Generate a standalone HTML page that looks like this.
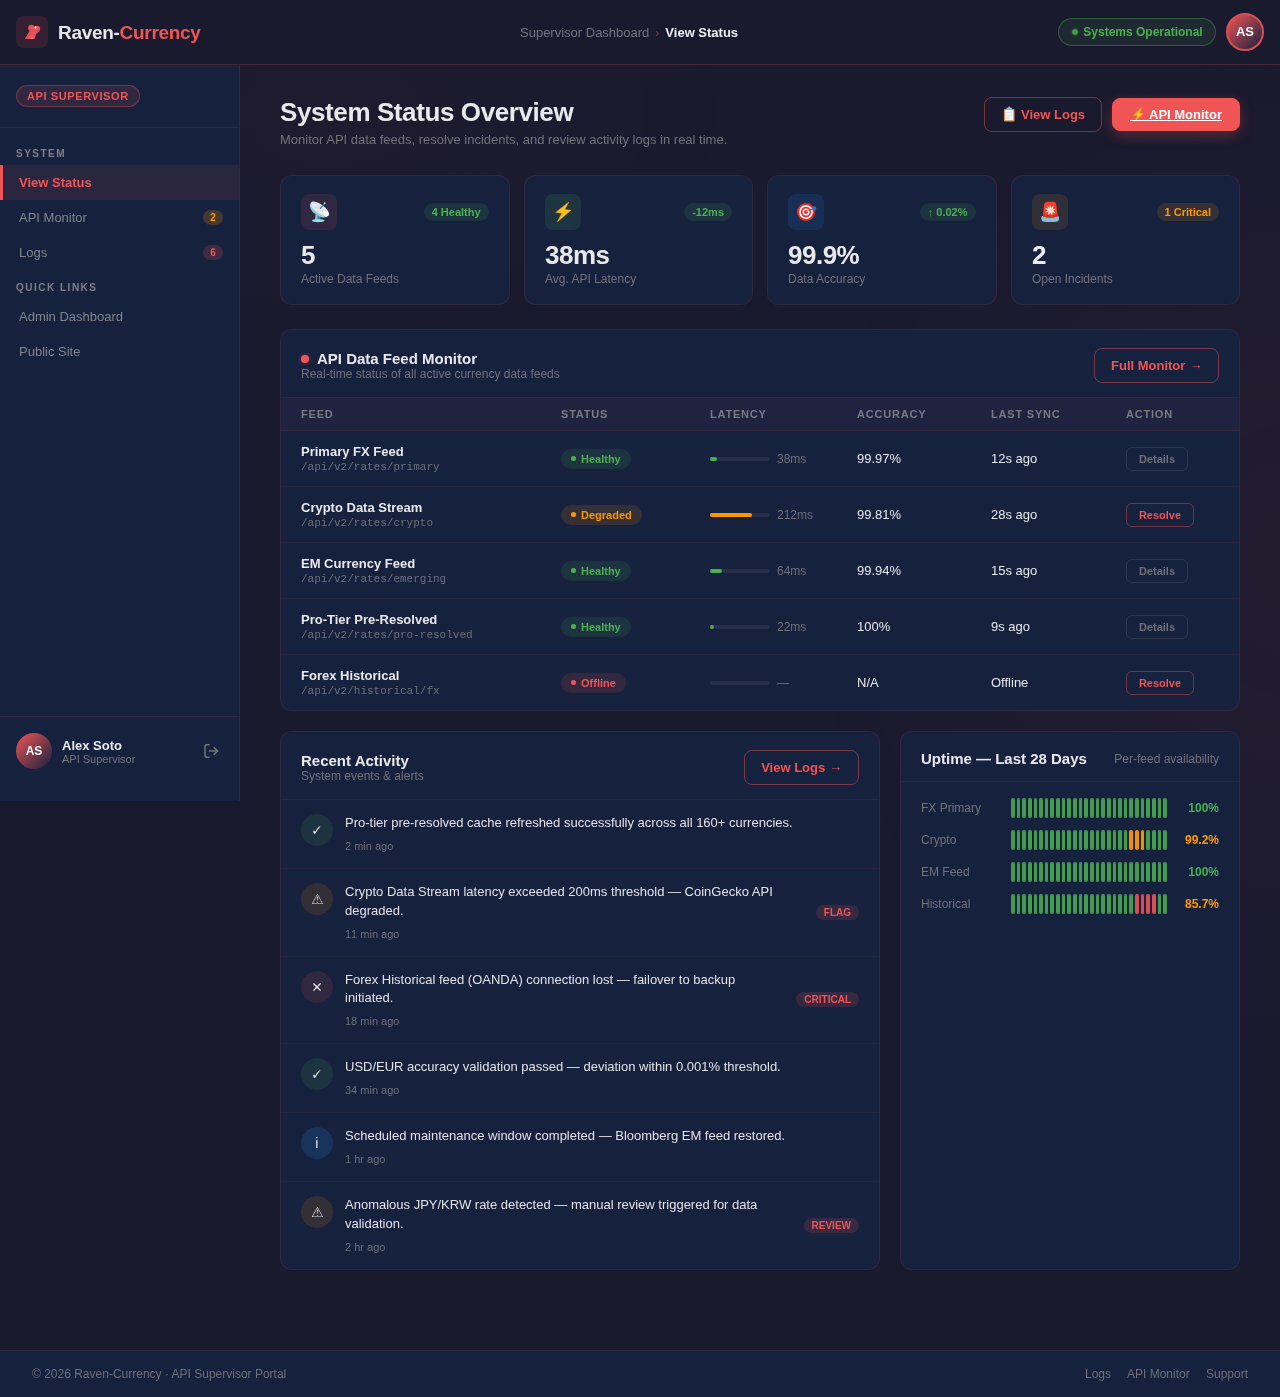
<!DOCTYPE html>
<html lang="en">
<head>
<meta charset="utf-8">
<title>Raven-Currency · View Status</title>
<style>
*{box-sizing:border-box;margin:0;padding:0}
html,body{width:1280px;height:1397px;overflow:hidden}
body{font-family:"Liberation Sans",sans-serif;background:#1a1a2e;color:#e8e8ee;position:relative;font-size:13px;line-height:1.5}
a{color:inherit;text-decoration:none}
.app{position:absolute;left:0;top:0;width:1280px;height:1397px;overflow:hidden;will-change:transform}
.glow{position:absolute;left:0;top:0;width:1280px;height:1397px;pointer-events:none;
 background:radial-gradient(ellipse 520px 520px at 1310px 560px,rgba(240,84,84,.05),rgba(240,84,84,0) 100%),
 radial-gradient(ellipse 420px 260px at 330px 110px,rgba(240,84,84,.025),rgba(240,84,84,0) 100%)}
/* header */
.hdr{position:absolute;left:0;top:0;width:1280px;height:65px;background:#1a1a2e;border-bottom:1px solid rgba(240,84,84,.22);z-index:5}
.logo{position:absolute;left:16px;top:16px;width:32px;height:32px;border-radius:8px;background:rgba(240,84,84,.13)}
.logo svg{position:absolute;left:6px;top:6px}
.brand{position:absolute;left:58px;top:20px;font-size:19px;font-weight:700;letter-spacing:-.3px;line-height:26px;color:#e9e9ec;white-space:nowrap}
.brand b{color:#f05454}
.crumb{position:absolute;left:520px;top:23px;font-size:13px;line-height:20px;white-space:nowrap;color:#72757c}
.crumb .sep{color:#7a3340;margin:0 6px;font-size:12px}
.crumb b{color:#f0f0f4;font-weight:700}
.sys{position:absolute;left:1058px;top:18px;width:158px;height:28px;border-radius:14px;border:1px solid rgba(76,175,80,.38);background:rgba(76,175,80,.1);color:#4caf50;font-size:12px;font-weight:700;line-height:26px;padding-left:24.3px;white-space:nowrap}
.sys i{position:absolute;left:12.5px;top:10px;width:6px;height:6px;border-radius:50%;background:#419a47;box-shadow:0 0 4px rgba(76,175,80,.35)}
.av{position:absolute;border-radius:50%;background:linear-gradient(135deg,#f05454,#16213e);color:#fff;font-weight:700;text-align:center}
.hdr .av{left:1226px;top:13px;width:38px;height:38px;border:2px solid #d94f56;font-size:13px;line-height:34px}
/* sidebar */
.side{position:absolute;left:0;top:65px;width:240px;height:736px;background:#16213e;border-right:1px solid rgba(240,84,84,.14)}
.role{position:absolute;left:16px;top:20px;height:22px;padding:0 10px;border-radius:11px;border:1px solid rgba(240,84,84,.35);background:rgba(240,84,84,.12);color:#f05454;font-size:11px;font-weight:700;letter-spacing:.6px;line-height:20px;white-space:nowrap}
.sdiv{position:absolute;left:0;width:239px;height:1px;background:rgba(240,84,84,.12)}
.slab{position:absolute;left:16px;font-size:10px;font-weight:700;letter-spacing:1.5px;color:#7d8086;line-height:12px}
.nav{position:absolute;left:0;width:239px;height:35px;padding-left:19px;font-size:13px;line-height:35px;color:#80848b}
.nav.on{background:rgba(240,84,84,.09);border-left:3px solid #f05454;padding-left:16px;color:#f05454;font-weight:700}
.nav em{position:absolute;left:203px;top:10px;width:20px;height:15px;border-radius:8px;font-style:normal;font-size:10px;font-weight:700;line-height:15px;text-align:center}
.nav em.o{background:rgba(255,152,0,.2);color:#ff9800}
.nav em.r{background:rgba(240,84,84,.2);color:#f05454}
.side .av{left:16px;top:668px;width:36px;height:36px;font-size:12px;line-height:36px}
.uname{position:absolute;left:62px;top:673px;font-size:13px;font-weight:700;color:#e9e9ec;line-height:16px}
.urole{position:absolute;left:62px;top:687px;font-size:11px;color:#74767c;line-height:14px}
.lo{position:absolute;left:203px;top:678px}

/* main */
.ttl{position:absolute;left:280px;top:95px;font-size:26px;font-weight:700;letter-spacing:-.4px;line-height:34px;color:#e9e9ec;white-space:nowrap}
.sub{position:absolute;left:280px;top:130px;font-size:13px;line-height:20px;color:#717379;white-space:nowrap}
.btn{position:absolute;height:35px;border-radius:8px;border:1px solid rgba(240,84,84,.45);color:#f05454;font-size:13px;font-weight:700;line-height:33px;text-align:center;white-space:nowrap}
.btn.pri{background:#f05454;border-color:#f05454;color:#fff;box-shadow:0 4px 14px rgba(240,84,84,.3)}
.ar{position:relative;top:-1px;left:.5px}
.btn svg{vertical-align:-3px;margin-right:3px}
.card{position:absolute;top:175px;height:130px;width:230px;border-radius:12px;background:#16213e;border:1px solid rgba(240,84,84,.13)}
.ico{position:absolute;left:20px;top:18px;width:36px;height:36px;border-radius:8px}
.ico svg{position:absolute;left:0;top:0}
.chip{position:absolute;right:20px;top:27px;height:18px;padding:0 8px;border-radius:9px;font-size:11px;font-weight:700;line-height:18px;white-space:nowrap}
.g{background:rgba(76,175,80,.13);color:#4caf50}
.o{background:rgba(255,152,0,.13);color:#ff9800}
.r{background:rgba(240,84,84,.14);color:#f05454}
.val{position:absolute;left:20px;top:62px;font-size:26px;font-weight:700;letter-spacing:-.5px;line-height:34px;color:#e9e9ec}
.lbl{position:absolute;left:20px;top:94px;font-size:12px;line-height:18px;color:#717379}

.panel{position:absolute;border-radius:12px;background:#16213e;border:1px solid rgba(240,84,84,.13);overflow:hidden}
.ph{position:absolute;font-size:15px;font-weight:700;line-height:20px;color:#e9e9ec;white-space:nowrap}
.ps{position:absolute;font-size:12px;line-height:16px;color:#717379;white-space:nowrap}
.dot{position:absolute;left:20px;top:25px;width:8px;height:8px;border-radius:50%;background:#f05454;box-shadow:0 0 5px rgba(240,84,84,.45)}
.thead{position:absolute;left:0;top:67px;width:958px;height:34px;background:rgba(240,84,84,.045);border-top:1px solid rgba(240,84,84,.09);border-bottom:1px solid rgba(240,84,84,.09)}
.th{position:absolute;top:10px;font-size:11px;font-weight:700;letter-spacing:.8px;line-height:13px;color:#7a7b82}
.row{position:absolute;left:0;width:958px;height:56px;border-bottom:1px solid rgba(240,84,84,.07)}
.fn{position:absolute;left:20px;top:12px;font-size:13px;font-weight:700;line-height:18px;color:#e9e9ec;white-space:nowrap}
.fp{position:absolute;left:20px;top:29px;font-family:"Liberation Mono",monospace;font-size:11px;line-height:14px;color:#6e7078;white-space:nowrap}
.st{position:absolute;left:280px;top:18px;height:20px;padding:0 10px 0 20px;border-radius:10px;font-size:11px;font-weight:700;line-height:20px;white-space:nowrap}
.st i{position:absolute;left:10px;top:7px;width:5px;height:5px;border-radius:50%;background:currentColor}
.bar{position:absolute;left:429px;top:26px;width:59px;height:4px;border-radius:2px;background:rgba(255,255,255,.07)}
.bar b{position:absolute;left:0;top:0;height:4px;border-radius:2px}
.ms{position:absolute;left:496px;top:19px;font-size:12px;line-height:18px;color:#6e7078}
.ac{position:absolute;left:576px;top:18px;font-size:13px;line-height:20px;color:#e9e9ec}
.ls{position:absolute;left:710px;top:18px;font-size:13px;line-height:20px;color:#e9e9ec}
.act{position:absolute;left:845px;top:16px;height:24px;border-radius:6px;border:1px solid rgba(140,142,160,.2);color:#6e7078;font-size:11px;font-weight:700;line-height:22px;text-align:center;width:62px}
.act.res{border-color:rgba(240,84,84,.4);color:#f05454;width:68px}

.hb{position:absolute;left:0;width:100%;height:1px;background:rgba(240,84,84,.1)}
.it{position:absolute;left:0;width:598px;border-bottom:1px solid rgba(240,84,84,.07)}
.ci{position:absolute;left:20px;top:14px;width:32px;height:32px;border-radius:50%}
.ci svg{position:absolute;left:0;top:0}
.tx{position:absolute;left:64px;top:13.6px;font-size:13px;line-height:18.5px;color:#e2e2e6;white-space:nowrap}
.tm{position:absolute;left:64px;font-size:11px;line-height:14px;color:#6e7078;font-kerning:none}
.tag{position:absolute;right:20px;height:15px;padding:0 8px;border-radius:8px;background:rgba(240,84,84,.15);color:#f05454;font-size:10px;font-weight:700;line-height:15px}
.ul{position:absolute;left:20px;font-size:12px;line-height:16px;color:#717379}
.ub{position:absolute;left:110px;width:156px;height:20px;display:flex;gap:2px}
.ub i{flex:1;border-radius:2px;background:#4caf50;opacity:.85}
.ub i.o{background:#ff9800;opacity:.95}
.ub i.r{background:#f05454;opacity:.9}
.up{position:absolute;right:20px;font-size:12px;font-weight:700;line-height:16px}
.ftr{position:absolute;left:0;top:1350px;width:1280px;height:47px;background:#16213e;border-top:1px solid rgba(240,84,84,.13);font-size:12px;color:#6e7078;line-height:16px}
.ftr span{position:absolute;top:15px;white-space:nowrap}
</style>
</head>
<body>
<div class="app">
<div class="glow"></div>

<div class="hdr">
  <div class="logo"><svg width="20" height="20" viewBox="0 0 20 20"><g fill="#e5525a"><circle cx="9.3" cy="6" r="3.15"/><circle cx="15.2" cy="6.8" r="2.95"/><path d="M7.7 9.1 2.9 17H12.5L14.2 11.9 17.2 9.3 13 4.6 9.3 6Z"/></g><path d="M7.7 17 9.7 14 11.9 17Z" fill="#f27478"/><circle cx="13.5" cy="5.6" r="1.1" fill="#f3eaea"/></svg></div>
  <div class="brand">Raven-<b>Currency</b></div>
  <div class="crumb">Supervisor Dashboard<span class="sep">›</span><b>View Status</b></div>
  <div class="sys"><i></i>Systems Operational</div>
  <div class="av">AS</div>
</div>

<div class="side">
  <div class="role">API SUPERVISOR</div>
  <div class="sdiv" style="top:62px"></div>
  <div class="slab" style="top:83px">SYSTEM</div>
  <div class="nav on" style="top:100px">View Status</div>
  <div class="nav" style="top:135px">API Monitor<em class="o">2</em></div>
  <div class="nav" style="top:170px">Logs<em class="r">6</em></div>
  <div class="slab" style="top:217px">QUICK LINKS</div>
  <div class="nav" style="top:234px">Admin Dashboard</div>
  <div class="nav" style="top:269px">Public Site</div>
  <div class="sdiv" style="top:651px"></div>
  <div class="av">AS</div>
  <div class="uname">Alex Soto</div>
  <div class="urole">API Supervisor</div>
  <svg class="lo" width="16" height="16" viewBox="0 0 16 16" fill="none" stroke="#74767c" stroke-width="1.5" stroke-linecap="round" stroke-linejoin="round"><path d="M6 1.8H3.4a1.4 1.4 0 0 0-1.4 1.4v9.6a1.4 1.4 0 0 0 1.4 1.4H6"/><path d="M6.5 8h8"/><path d="M11.2 4.6 14.6 8l-3.4 3.4"/></svg>
</div>


<div class="ttl">System Status Overview</div>
<div class="sub">Monitor API data feeds, resolve incidents, and review activity logs in real time.</div>
<div class="btn" style="left:984px;top:97px;width:118px"><svg style="position:absolute;left:18px;top:8px;margin:0" width="13" height="16" viewBox="0 0 13 16"><rect x=".9" y="2.9" width="10.6" height="12.5" rx=".8" fill="#d8904e"/><rect x="2.1" y="4" width="8.2" height="10.2" fill="#f1f4f7"/><path d="M3.4 2.6Q3.6 1.6 5 1.5L6.2.2 7.4 1.5Q8.8 1.6 9 2.6L9.2 3.9H3.2Z" fill="#8fbac6"/><path d="M3.3 6.7h5.8M3.3 9.2h5.8M3.3 11.7h3" stroke="#d5dbe1" stroke-width=".8"/></svg><span style="position:absolute;left:36px;top:0">View Logs</span></div>
<div class="btn pri" style="left:1112px;top:98px;width:128px;height:33px;line-height:31px"><svg style="position:absolute;left:19px;top:7px;margin:0" width="13" height="17" viewBox="0 0 13 17"><path d="M10 1.4 1.3 9.2 5.6 9.7 2.5 15.8 11 7.6 7.7 7.1Z" fill="#fcc21b" stroke="#eba612" stroke-width=".5" stroke-linejoin="round"/></svg><span style="position:absolute;left:36px;top:0">API Monitor</span><i style="position:absolute;left:17px;top:21px;width:92px;height:1px;background:#fff"></i></div>

<div class="card" style="left:280px"><div class="ico" style="background:rgba(240,84,84,.12)"><svg width="36" height="36" viewBox="0 0 36 36"><path d="M14.8 19.8 18.6 22 19 26.6H13.8Z" fill="#7fc6d6"/><path d="M16.4 21.4 19.4 22.9 19.6 26.4 16.4 26.4Z" fill="#3c8da4"/><ellipse cx="17.2" cy="26.7" rx="6.3" ry="1.6" fill="#98dcea"/><ellipse cx="18" cy="16" rx="10.6" ry="5.5" transform="rotate(35 18 16)" fill="#8fcbd9"/><ellipse cx="18.8" cy="14.9" rx="10.9" ry="4.5" transform="rotate(35 18.8 14.9)" fill="#e3e6e8"/><ellipse cx="24.6" cy="19.6" rx="3.4" ry="2.2" transform="rotate(40 24.6 19.6)" fill="#fbfcfc"/><path d="M13.8 13.8Q17 12.6 20 13.2" stroke="#b9cdd3" stroke-width=".6" fill="none"/><path d="M21.7 16.2 22.4 23" stroke="#c4d6dc" stroke-width=".7"/><path d="M19.4 14.4 23.4 9.6" stroke="#3a7f92" stroke-width="1.25" stroke-linecap="round"/><circle cx="23.7" cy="9.2" r=".95" fill="#9bd6e3"/></svg></div><div class="chip g"><span style="position:relative;left:-.4px">4 Healthy</span></div><div class="val">5</div><div class="lbl">Active Data Feeds</div></div>
<div class="card" style="left:524px;width:229px"><div class="ico" style="background:rgba(76,175,80,.14)"><svg width="36" height="36" viewBox="0 0 36 36"><path d="M23.8 8 10.7 18.4 16.9 19.2 12.2 28 26 16.2 19.8 15.5Z" fill="#fcc21b" stroke="#eba40f" stroke-width=".5" stroke-linejoin="round"/></svg></div><div class="chip g">-12ms</div><div class="val">38ms</div><div class="lbl">Avg. API Latency</div></div>
<div class="card" style="left:767px"><div class="ico" style="background:rgba(33,150,243,.13)"><svg width="36" height="36" viewBox="0 0 36 36"><circle cx="18" cy="18" r="9" fill="#f4281c"/><path d="M24.4 24.3A9 9 0 0 0 27 18L24 21Z" fill="#c8202a"/><circle cx="18" cy="18" r="6.9" fill="#fff"/><circle cx="18" cy="18" r="5.2" fill="#f4281c"/><circle cx="18" cy="18" r="3.5" fill="#fff"/><circle cx="18" cy="18" r="2" fill="#f4281c"/><path d="M18.4 17.8 24.8 14.9" stroke="#9fb4c8" stroke-width="1.1" stroke-linecap="round"/><path d="M21.4 16.5 24.8 14.9" stroke="#2f6fb4" stroke-width="1.2" stroke-linecap="round"/><path d="M23.6 15.6 25 12.4Q27.8 11.6 28.3 14.6L27.6 16.2Z" fill="#1e78dc"/></svg></div><div class="chip g"><span style="position:relative;left:-.5px">↑ 0.02%</span></div><div class="val">99.9%</div><div class="lbl">Data Accuracy</div></div>
<div class="card" style="left:1011px;width:229px"><div class="ico" style="background:rgba(255,152,0,.115)"><svg width="36" height="36" viewBox="0 0 36 36"><path d="M9.2 23.5Q9 22.4 10.4 22.2H25.8Q27.2 22.4 27.1 23.5L26.6 26.4Q26.2 27.9 18.1 28Q10.2 27.9 9.7 26.4Z" fill="#8bbdd0"/><path d="M9.6 22.6Q18 25.4 26.8 22.6Q26.5 22 25.6 22H10.6Q9.7 22 9.6 22.6Z" fill="#c0dfe9"/><path d="M10.9 22.4 12 11Q12.4 7.9 15.4 7.8H21Q24 7.9 24.4 11L25.7 22.4Q18.3 25.3 10.9 22.4Z" fill="#f23e2c"/><path d="M11.2 20 10.9 22.4Q18.3 25.3 25.7 22.4L25.4 20Q18.3 22.6 11.2 20Z" fill="#d32d24"/><path d="M18 10.9 19.1 13.6 21.6 11.9 20.9 14.8 23.9 14.9 21.4 16.6 23.4 18.9 20.5 18.4 20.3 21.4 18.4 19 16.3 21.1 16.2 18.1 13.3 18.4 15.2 16.2 12.9 14.3 15.8 14.5 15.4 11.6 17.4 13.4Z" fill="#ffd7cc"/></svg></div><div class="chip o">1 Critical</div><div class="val">2</div><div class="lbl">Open Incidents</div></div>


<div class="panel" style="left:280px;top:329px;width:960px;height:382px">
  <div class="dot"></div>
  <div class="ph" style="left:36px;top:19px">API Data Feed Monitor</div>
  <div class="ps" style="left:20px;top:36px">Real-time status of all active currency data feeds</div>
  <div class="btn" style="left:813px;top:18px;width:125px">Full Monitor <span class="ar">→</span></div>
  <div class="thead">
    <div class="th" style="left:20px">FEED</div><div class="th" style="left:280px">STATUS</div><div class="th" style="left:429px">LATENCY</div><div class="th" style="left:576px">ACCURACY</div><div class="th" style="left:710px">LAST SYNC</div><div class="th" style="left:845px">ACTION</div>
  </div>
  <div class="row" style="top:101px"><div class="fn">Primary FX Feed</div><div class="fp">/api/v2/rates/primary</div><div class="st g"><i></i>Healthy</div><div class="bar"><b style="width:7px;background:#4caf50"></b></div><div class="ms">38ms</div><div class="ac">99.97%</div><div class="ls">12s ago</div><div class="act">Details</div></div>
  <div class="row" style="top:157px"><div class="fn">Crypto Data Stream</div><div class="fp">/api/v2/rates/crypto</div><div class="st o"><i></i>Degraded</div><div class="bar"><b style="width:42px;background:#ff9800"></b></div><div class="ms">212ms</div><div class="ac">99.81%</div><div class="ls">28s ago</div><div class="act res">Resolve</div></div>
  <div class="row" style="top:213px"><div class="fn">EM Currency Feed</div><div class="fp">/api/v2/rates/emerging</div><div class="st g"><i></i>Healthy</div><div class="bar"><b style="width:12px;background:#4caf50"></b></div><div class="ms">64ms</div><div class="ac">99.94%</div><div class="ls">15s ago</div><div class="act">Details</div></div>
  <div class="row" style="top:269px"><div class="fn">Pro-Tier Pre-Resolved</div><div class="fp">/api/v2/rates/pro-resolved</div><div class="st g"><i></i>Healthy</div><div class="bar"><b style="width:4px;background:#4caf50"></b></div><div class="ms">22ms</div><div class="ac">100%</div><div class="ls">9s ago</div><div class="act">Details</div></div>
  <div class="row" style="top:325px"><div class="fn">Forex Historical</div><div class="fp">/api/v2/historical/fx</div><div class="st r"><i></i>Offline</div><div class="bar"></div><div class="ms">—</div><div class="ac">N/A</div><div class="ls">Offline</div><div class="act res">Resolve</div></div>
</div>


<div class="panel" style="left:280px;top:731px;width:600px;height:539px">
  <div class="ph" style="left:20px;top:19px">Recent Activity</div>
  <div class="ps" style="left:20px;top:36px">System events &amp; alerts</div>
  <div class="btn" style="left:463px;top:18px;width:115px">View Logs <span class="ar">→</span></div>
  <div class="hb" style="top:67px"></div>
  <div class="it" style="top:68px;height:69px"><div class="ci" style="background:rgba(76,175,80,.135)"><svg width="32" height="32" viewBox="0 0 32 32"><path transform="translate(15.8 16) scale(0.006836 -0.006836) translate(-837 -744)" d="M453 654Q492 654 512 590Q552 470 569 470Q582 470 596 490Q877 940 1116 1218Q1178 1290 1313 1290Q1345 1290 1356 1284.0Q1367 1278 1367 1269Q1367 1255 1334 1214Q948 750 618 234Q595 198 524 198Q452 198 439 204Q405 219 359 357Q307 510 307 549Q307 591 377 630Q420 654 453 654Z" fill="#e6e6ea"/></svg></div><div class="tx">Pro-tier pre-resolved cache refreshed successfully across all 160+ currencies.</div><div class="tm" style="top:39px">2 min ago</div></div>
  <div class="it" style="top:137px;height:88px"><div class="ci" style="background:rgba(255,152,0,.125)"><svg width="32" height="32" viewBox="0 0 32 32"><path transform="translate(16.4 15.9) scale(0.006836 -0.006836) translate(-918 -746)" d="M927 1492H934L1736 9V0H117L109 9H100Q895 1459 927 1492ZM918 1304 254 103V86H1591V95Q947 1276 918 1304ZM927 1082Q1004 1082 1004 1014Q952 401 927 401Q904 401 850 1023Q875 1082 927 1082ZM926 327Q945 327 963.5 317.0Q982 307 992.5 289.0Q1003 271 1003 250Q1003 230 993 212.0Q983 194 964 184.0Q945 174 926 174Q906 174 888 184.0Q870 194 859.5 212.0Q849 230 849 250Q849 271 859.5 289.0Q870 307 888 317.0Q906 327 926 327Z" fill="#e6e6ea"/></svg></div><div class="tx" style="line-height:19px;top:13.4px">Crypto Data Stream latency exceeded 200ms threshold — CoinGecko API<br>degraded.</div><div class="tm" style="top:58px">11 min ago</div><div class="tag" style="top:36px">FLAG</div></div>
  <div class="it" style="top:225px;height:87px"><div class="ci" style="background:rgba(240,84,84,.12)"><svg width="32" height="32" viewBox="0 0 32 32"><path transform="translate(16 16) scale(0.006836 -0.006836) translate(-858 -746.5)" d="M999 746Q999 746 1456 289L1314 148L858 605Q858 605 401 148L259 289L716 746Q716 746 259 1203L401 1344L858 888Q858 888 1315 1345L1457 1204Z" fill="#e6e6ea"/></svg></div><div class="tx">Forex Historical feed (OANDA) connection lost — failover to backup<br>initiated.</div><div class="tm" style="top:57px">18 min ago</div><div class="tag" style="top:35px">CRITICAL</div></div>
  <div class="it" style="top:312px;height:69px"><div class="ci" style="background:rgba(76,175,80,.135)"><svg width="32" height="32" viewBox="0 0 32 32"><path transform="translate(15.8 16) scale(0.006836 -0.006836) translate(-837 -744)" d="M453 654Q492 654 512 590Q552 470 569 470Q582 470 596 490Q877 940 1116 1218Q1178 1290 1313 1290Q1345 1290 1356 1284.0Q1367 1278 1367 1269Q1367 1255 1334 1214Q948 750 618 234Q595 198 524 198Q452 198 439 204Q405 219 359 357Q307 510 307 549Q307 591 377 630Q420 654 453 654Z" fill="#e6e6ea"/></svg></div><div class="tx">USD/EUR accuracy validation passed — deviation within 0.001% threshold.</div><div class="tm" style="top:39px">34 min ago</div></div>
  <div class="it" style="top:381px;height:69px"><div class="ci" style="background:rgba(33,150,243,.17)"><b style="position:absolute;left:0;top:0;width:31.4px;text-align:center;font-size:14px;line-height:32px;font-weight:400;color:#e6e6ea">i</b></div><div class="tx">Scheduled maintenance window completed — Bloomberg EM feed restored.</div><div class="tm" style="top:39px">1 hr ago</div></div>
  <div class="it" style="top:450px;height:88px;border-bottom:0"><div class="ci" style="background:rgba(255,152,0,.125)"><svg width="32" height="32" viewBox="0 0 32 32"><path transform="translate(16.4 15.9) scale(0.006836 -0.006836) translate(-918 -746)" d="M927 1492H934L1736 9V0H117L109 9H100Q895 1459 927 1492ZM918 1304 254 103V86H1591V95Q947 1276 918 1304ZM927 1082Q1004 1082 1004 1014Q952 401 927 401Q904 401 850 1023Q875 1082 927 1082ZM926 327Q945 327 963.5 317.0Q982 307 992.5 289.0Q1003 271 1003 250Q1003 230 993 212.0Q983 194 964 184.0Q945 174 926 174Q906 174 888 184.0Q870 194 859.5 212.0Q849 230 849 250Q849 271 859.5 289.0Q870 307 888 317.0Q906 327 926 327Z" fill="#e6e6ea"/></svg></div><div class="tx" style="line-height:19px;top:13.4px">Anomalous JPY/KRW rate detected — manual review triggered for data<br>validation.</div><div class="tm" style="top:58px">2 hr ago</div><div class="tag" style="top:36px">REVIEW</div></div>
</div>

<div class="panel" style="left:900px;top:731px;width:340px;height:539px">
  <div class="ph" style="left:20px;top:17px">Uptime — Last 28 Days</div>
  <div class="ps" style="right:20px;top:19px">Per-feed availability</div>
  <div class="hb" style="top:49px"></div>
  <div class="ul" style="top:68px">FX Primary</div><div class="ub" style="top:66px"><i></i><i></i><i></i><i></i><i></i><i></i><i></i><i></i><i></i><i></i><i></i><i></i><i></i><i></i><i></i><i></i><i></i><i></i><i></i><i></i><i></i><i></i><i></i><i></i><i></i><i></i><i></i><i></i></div><div class="up" style="top:68px;color:#4caf50">100%</div>
  <div class="ul" style="top:100px">Crypto</div><div class="ub" style="top:98px"><i></i><i></i><i></i><i></i><i></i><i></i><i></i><i></i><i></i><i></i><i></i><i></i><i></i><i></i><i></i><i></i><i></i><i></i><i></i><i></i><i></i><i class="o"></i><i class="o"></i><i class="o"></i><i></i><i></i><i></i><i></i></div><div class="up" style="top:100px;color:#ff9800">99.2%</div>
  <div class="ul" style="top:132px">EM Feed</div><div class="ub" style="top:130px"><i></i><i></i><i></i><i></i><i></i><i></i><i></i><i></i><i></i><i></i><i></i><i></i><i></i><i></i><i></i><i></i><i></i><i></i><i></i><i></i><i></i><i></i><i></i><i></i><i></i><i></i><i></i><i></i></div><div class="up" style="top:132px;color:#4caf50">100%</div>
  <div class="ul" style="top:164px">Historical</div><div class="ub" style="top:162px"><i></i><i></i><i></i><i></i><i></i><i></i><i></i><i></i><i></i><i></i><i></i><i></i><i></i><i></i><i></i><i></i><i></i><i></i><i></i><i></i><i></i><i></i><i class="r"></i><i class="r"></i><i class="r"></i><i class="r"></i><i></i><i></i></div><div class="up" style="top:164px;color:#ff9800">85.7%</div>
</div>

<div class="ftr"><span style="left:32px">© 2026 Raven-Currency · API Supervisor Portal</span><span style="left:1085px">Logs</span><span style="left:1127px">API Monitor</span><span style="left:1206px">Support</span></div>




</div>
</body>
</html>
